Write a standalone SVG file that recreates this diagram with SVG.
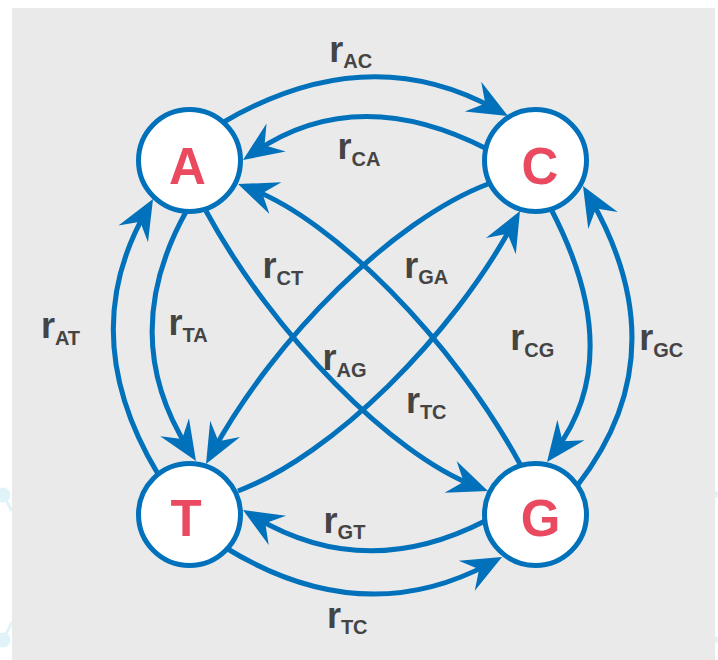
<svg xmlns="http://www.w3.org/2000/svg" width="718" height="660" viewBox="0 0 718 660">
  <style>
    .edge { fill: none; stroke: #0071BA; stroke-width: 5; marker-end: url(#ah); }
    .node circle { fill: #FFFFFF; stroke: #0071BA; stroke-width: 5; }
    .node text { font-family: "Liberation Sans", Arial, sans-serif; font-weight: bold; font-size: 51px; fill: #EA4A5F; text-anchor: middle; }
    .lbl { font-family: "Liberation Sans", Arial, sans-serif; font-weight: bold; font-size: 36px; fill: #444444; }
    .lbl tspan.sub { font-size: 20px; }
    .deco { fill: #DFF3F9; stroke: #DFF3F9; stroke-width: 3; }
  </style>
  <defs>
    <marker id="ah" markerUnits="userSpaceOnUse" orient="auto" refX="0" refY="0" markerWidth="60" markerHeight="60" viewBox="-30 -30 60 60" overflow="visible">
      <path d="M14,0 L-26,-17 L-12,0 L-26,17 Z" fill="#0071BA"/>
    </marker>
  </defs>

  <rect x="0" y="0" width="718" height="660" fill="#FFFFFF"/>
  <g id="decoration">
    <line class="deco" x1="3" y1="495" x2="12" y2="511"/>
    <circle class="deco" cx="3" cy="495" r="6"/>
    <line class="deco" x1="3" y1="640" x2="12" y2="622"/>
    <circle class="deco" cx="3" cy="640" r="6"/>
    <rect class="deco" x="715" y="493" width="3" height="3" stroke="none"/>
    <rect class="deco" x="715" y="638" width="3" height="3" stroke="none"/>
  </g>
  <rect id="background" x="12" y="8" width="703" height="652" fill="#EAEAEA"/>

  <g id="connectors">
    <path id="e-AC" class="edge" d="M222,123 Q367,38 495.75,109.2"/>
    <path id="e-CA" class="edge" d="M487,149 Q357,82.5 254.6,152.1"/>
    <path id="e-AT" class="edge" d="M158,474 Q75,336 146.1,211.2"/>
    <path id="e-TA" class="edge" d="M187,210 Q116.5,335.5 188.5,449.2"/>
    <path id="e-CT" class="edge" d="M488,184 C393,220 274,339 212.7,451.7"/>
    <path id="e-GA" class="edge" d="M520,464 C452,339 333,220 251.1,189"/>
    <path id="e-AG" class="edge" d="M206,211 C274,336 393,455 474.9,486"/>
    <path id="e-TC" class="edge" d="M238,491 C333,455 452,336 513.3,223.3"/>
    <path id="e-CG" class="edge" d="M551,209 Q627,355 555.4,450.8"/>
    <path id="e-GC" class="edge" d="M577,486 Q680,354 590,198.1"/>
    <path id="e-GT" class="edge" d="M485,521 Q365,582.5 255,517.2"/>
    <path id="e-TG" class="edge" d="M226,548 Q362.5,631.5 489.7,563.6"/>
  </g>

  <g id="labels">
    <text class="lbl" x="329.3" y="61.7">r<tspan class="sub" dy="6">AC</tspan></text>
    <text class="lbl" x="337.6" y="159.3">r<tspan class="sub" dy="6.5">CA</tspan></text>
    <text class="lbl" x="262.6" y="278.3">r<tspan class="sub" dy="6.5">CT</tspan></text>
    <text class="lbl" x="404.3" y="278.3">r<tspan class="sub" dy="6">GA</tspan></text>
    <text class="lbl" x="322.6" y="370">r<tspan class="sub" dy="6.5">AG</tspan></text>
    <text class="lbl" x="405.9" y="413.3">r<tspan class="sub" dy="6">TC</tspan></text>
    <text class="lbl" x="40.9" y="338.3">r<tspan class="sub" dy="6.5">AT</tspan></text>
    <text class="lbl" x="168.6" y="335">r<tspan class="sub" dy="6.5">TA</tspan></text>
    <text class="lbl" x="510.3" y="350">r<tspan class="sub" dy="6.5">CG</tspan></text>
    <text class="lbl" x="639.3" y="350">r<tspan class="sub" dy="6.5">GC</tspan></text>
    <text class="lbl" x="323.6" y="533.3">r<tspan class="sub" dy="6">GT</tspan></text>
    <text class="lbl" x="326.9" y="628.3">r<tspan class="sub" dy="6">TC</tspan></text>
  </g>

  <g id="node-A" class="node">
    <circle cx="189.5" cy="160.5" r="51"/>
    <text x="187.5" y="184">A</text>
  </g>
  <g id="node-C" class="node">
    <circle cx="535.5" cy="160.5" r="51"/>
    <text x="540" y="183.5">C</text>
  </g>
  <g id="node-T" class="node">
    <circle cx="189.5" cy="514.5" r="51"/>
    <text x="186" y="536">T</text>
  </g>
  <g id="node-G" class="node">
    <circle cx="535.5" cy="514.5" r="51"/>
    <text x="540.5" y="536">G</text>
  </g>
</svg>
